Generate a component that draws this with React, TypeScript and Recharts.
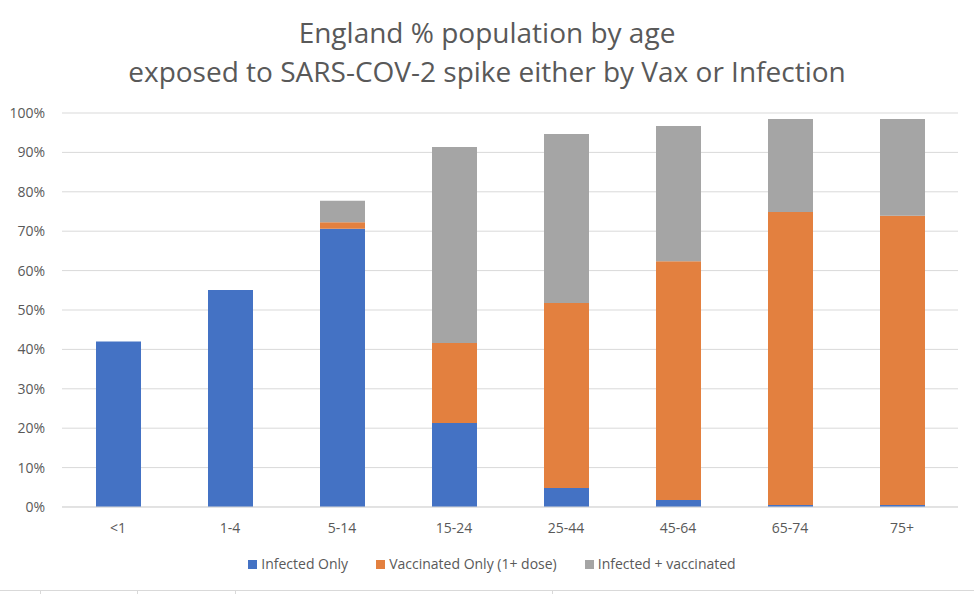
import React from "react";
import {
  BarChart,
  Bar,
  XAxis,
  YAxis,
  CartesianGrid,
  Legend,
} from "recharts";

const ageGroups = ["<1", "1-4", "5-14", "15-24", "25-44", "45-64", "65-74", "75+"];
const infectedOnly = [42, 55.1, 70.6, 21.3, 4.8, 1.8, 0.5, 0.5];
const vaccinatedOnly = [0, 0, 1.7, 20.3, 47, 60.6, 74.4, 73.4];
const infectedVaccinated = [0, 0, 5.4, 49.8, 42.9, 34.3, 23.6, 24.6];
const yTicks = [0, 10, 20, 30, 40, 50, 60, 70, 80, 90, 100];
const legendOrder = ["infected", "vaccinated", "both"];

const rows = ageGroups.map((age, i) => ({
  age,
  infected: infectedOnly[i],
  vaccinated: vaccinatedOnly[i],
  both: infectedVaccinated[i],
}));

const FONT = "'Open Sans', sans-serif";
const TEXT = "#595959";

export default function App() {
  return (
    <div
      style={{
        position: "absolute",
        left: 0,
        top: 0,
        width: 974,
        height: 594,
        background: "#fff",
        fontFamily: FONT,
        overflow: "hidden",
      }}
    >
      <div
        style={{
          position: "absolute",
          top: 13,
          width: "100%",
          textAlign: "center",
          color: TEXT,
          fontSize: 28,
          lineHeight: "39px",
        }}
      >
        England % population by age
        <br />
        exposed to SARS-COV-2 spike either by Vax or Infection
      </div>
      <BarChart
        width={974}
        height={594}
        data={rows}
        barSize={45}
        margin={{ top: 113, right: 16, bottom: 18, left: 0 }}
        style={{ position: "absolute", left: 0, top: 0 }}
      >
        <CartesianGrid vertical={false} stroke="#d9d9d9" />
        <XAxis
          dataKey="age"
          height={45}
          axisLine={{ stroke: "#d9d9d9" }}
          tickLine={false}
          tick={{ fill: TEXT, fontSize: 14, fontFamily: FONT }}
          tickMargin={10}
        />
        <YAxis
          width={62}
          domain={[0, 100]}
          ticks={yTicks}
          axisLine={false}
          tickLine={false}
          tickMargin={11}
          tickFormatter={(v) => `${v}%`}
          tick={{ fill: TEXT, fontSize: 14, fontFamily: FONT }}
        />
        <Legend
          verticalAlign="bottom"
          iconType="square"
          iconSize={9}
          height={24}
          wrapperStyle={{ paddingLeft: 27 }}
          itemSorter={(item: any) => legendOrder.indexOf(item.dataKey)}
          formatter={(value) => (
            <span style={{ color: TEXT, fontSize: 14, marginRight: 18 }}>{value}</span>
          )}
        />
        <Bar
          dataKey="infected"
          stackId="a"
          fill="#4472C4"
          name="Infected Only"
          isAnimationActive={false}
        />
        <Bar
          dataKey="vaccinated"
          stackId="a"
          fill="#E3803F"
          name="Vaccinated Only (1+ dose)"
          isAnimationActive={false}
        />
        <Bar
          dataKey="both"
          stackId="a"
          fill="#A5A5A5"
          name="Infected + vaccinated"
          isAnimationActive={false}
        />
      </BarChart>
      {/* faint spreadsheet cell borders under the chart */}
      <div style={{ position: "absolute", left: 0, top: 590, width: 974, height: 1, background: "#d9d9d9" }} />
      {[40, 137, 235, 552].map((x) => (
        <div key={x} style={{ position: "absolute", left: x, top: 590, width: 1, height: 4, background: "#d9d9d9" }} />
      ))}
    </div>
  );
}
